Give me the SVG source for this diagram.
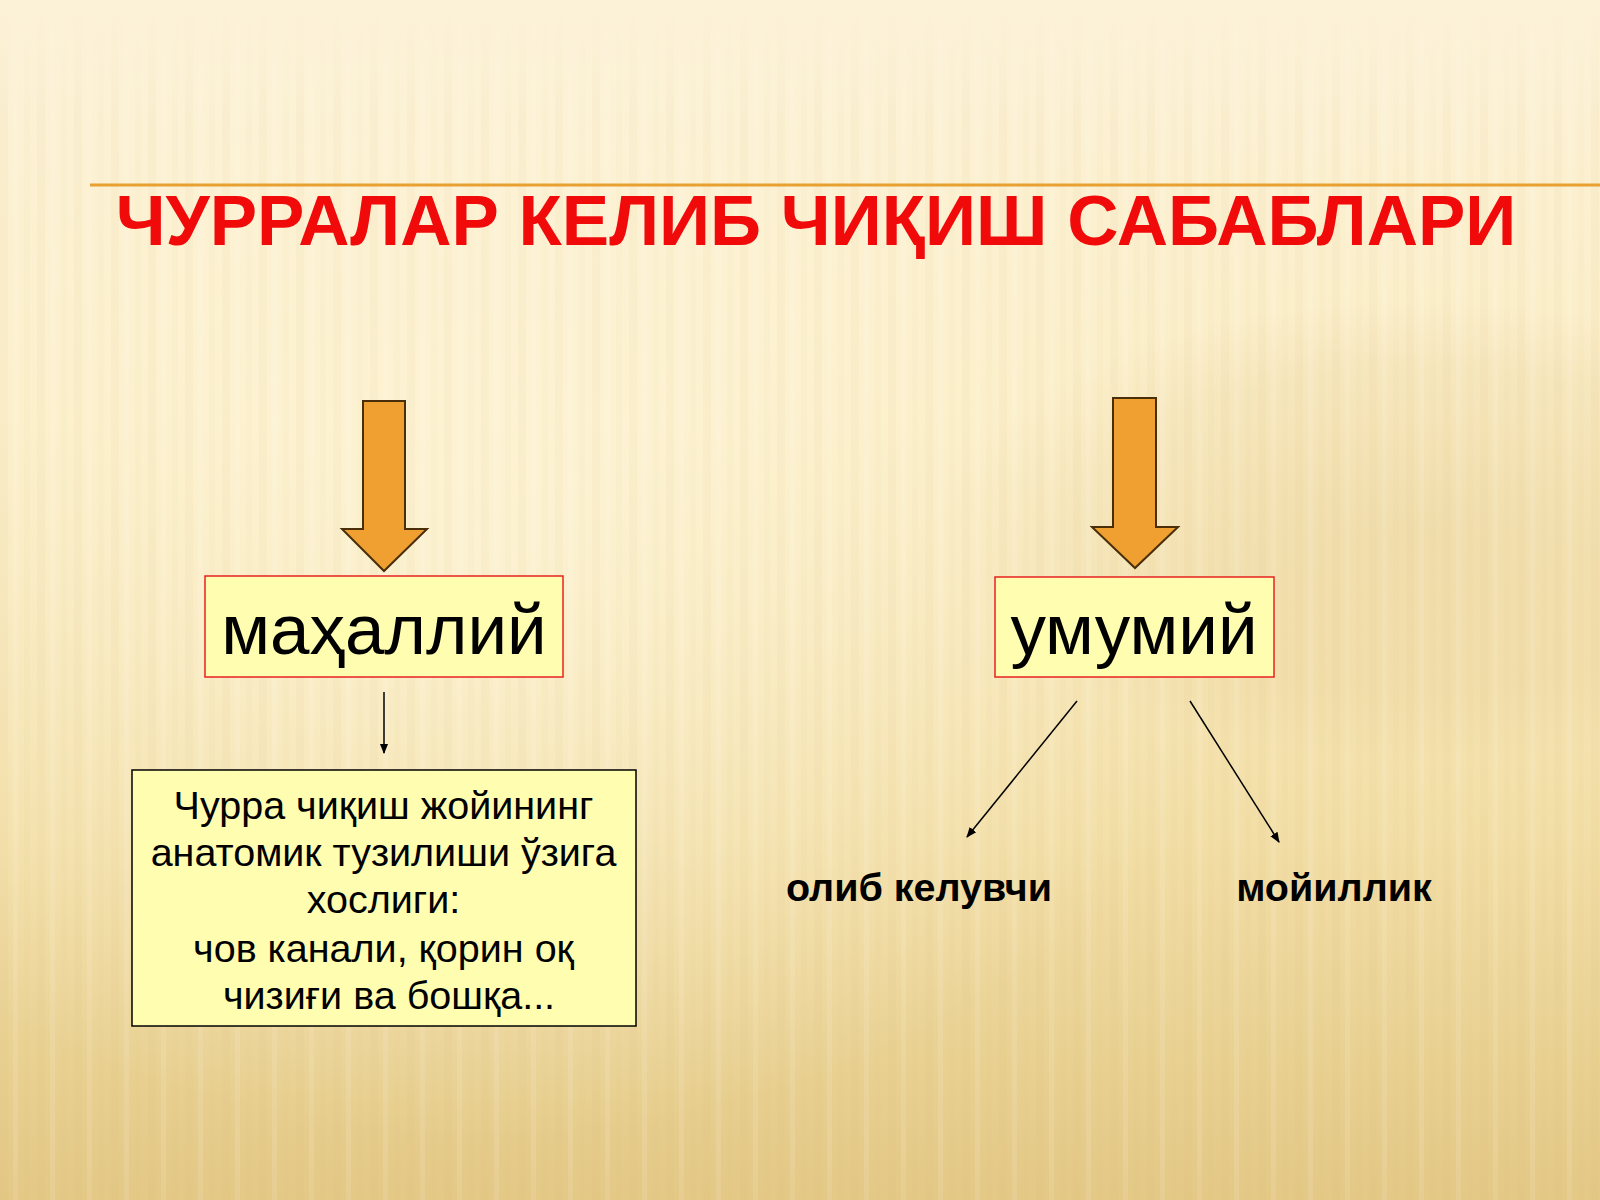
<svg xmlns="http://www.w3.org/2000/svg" width="1600" height="1200" viewBox="0 0 1600 1200">
  <defs>
    <linearGradient id="bg" x1="0" y1="0" x2="0" y2="1">
      <stop offset="0" stop-color="#FCF2D8"/>
      <stop offset="0.35" stop-color="#FBEDC6"/>
      <stop offset="0.7" stop-color="#F2DEA6"/>
      <stop offset="1" stop-color="#E3C886"/>
    </linearGradient>
    <radialGradient id="glow" cx="0.3" cy="0.45" r="0.5">
      <stop offset="0" stop-color="#FFF8E0" stop-opacity="0.6"/>
      <stop offset="1" stop-color="#FFF8E0" stop-opacity="0"/>
    </radialGradient>
    <radialGradient id="shade" cx="0.5" cy="0.5" r="0.5">
      <stop offset="0" stop-color="#D4B570" stop-opacity="0.22"/>
      <stop offset="0.7" stop-color="#D4B570" stop-opacity="0.12"/>
      <stop offset="1" stop-color="#D4B570" stop-opacity="0"/>
    </radialGradient>
    <linearGradient id="fadeTop" x1="0" y1="0" x2="0" y2="1">
      <stop offset="0" stop-color="#FCF2D8" stop-opacity="1"/>
      <stop offset="1" stop-color="#FCF2D8" stop-opacity="0"/>
    </linearGradient>
    <pattern id="stripes" x="0" y="0" width="37" height="1200" patternUnits="userSpaceOnUse">
      <rect x="0" y="0" width="8" height="1200" fill="#C8A860" opacity="0.06"/>
      <rect x="13" y="0" width="5" height="1200" fill="#FFFFFF" opacity="0.10"/>
      <rect x="24" y="0" width="6" height="1200" fill="#C8A860" opacity="0.04"/>
    </pattern>
    <marker id="ah" viewBox="0 0 10 10" refX="9" refY="5" markerWidth="7" markerHeight="7" orient="auto">
      <path d="M0,1 L10,5 L0,9 Z" fill="#000"/>
    </marker>
  </defs>
  <style>
    .title { font-family: "Liberation Sans", Arial, sans-serif; font-weight: bold; font-size: 71px; fill: #F00A0A; }
    .big { font-family: "Liberation Sans", Arial, sans-serif; font-size: 71px; fill: #000; }
    .body { font-family: "Liberation Sans", Arial, sans-serif; font-size: 39.5px; fill: #000; }
    .lbl { font-family: "Liberation Sans", Arial, sans-serif; font-weight: bold; font-size: 39.5px; fill: #000; }
    .arrowshape { fill: #EFA030; stroke: #4A2E0A; stroke-width: 2; }
    .conn { stroke: #000; stroke-width: 1.5; fill: none; }
  </style>

  <rect x="0" y="0" width="1600" height="1200" fill="url(#bg)"/>
  <ellipse cx="1420" cy="530" rx="480" ry="230" fill="url(#shade)"/>
  <rect x="0" y="0" width="1600" height="1200" fill="url(#glow)"/>
  <rect x="0" y="0" width="1600" height="1200" fill="url(#stripes)"/>
  <rect x="0" y="0" width="1600" height="120" fill="url(#fadeTop)"/>

  <line x1="90" y1="185" x2="1600" y2="185" stroke="#E8A030" stroke-width="3"/>

  <g id="title">
    <text class="title" x="816" y="245" text-anchor="middle">ЧУРРАЛАР КЕЛИБ ЧИҚИШ САБАБЛАРИ</text>
  </g>

  <g id="arrow-left">
    <polygon class="arrowshape" points="363,401 405,401 405,529 427,529 384,571 342,529 363,529"/>
  </g>
  <g id="arrow-right">
    <polygon class="arrowshape" points="1113,398 1156,398 1156,527 1178,527 1135,568 1092,527 1113,527"/>
  </g>

  <g id="node-mahalliy">
    <rect x="205" y="576" width="358" height="101" fill="#FFFDB0" stroke="#E82020" stroke-width="1.5"/>
    <text class="big" x="384" y="654" text-anchor="middle">маҳаллий</text>
  </g>

  <g id="node-umumiy">
    <rect x="995" y="577" width="279" height="100" fill="#FFFDB0" stroke="#E82020" stroke-width="1.5"/>
    <text class="big" x="1134" y="654" text-anchor="middle">умумий</text>
  </g>

  <g id="node-anatomy">
    <rect x="132" y="770" width="504" height="256" fill="#FFFDB0" stroke="#000" stroke-width="1.5"/>
    <text class="body" text-anchor="middle">
      <tspan x="389" y="819">Чурра чиқиш жойининг</tspan>
      <tspan x="389" y="866">анатомик тузилиши ўзига</tspan>
      <tspan x="389" y="913">хослиги:</tspan>
      <tspan x="389" y="962">чов канали, қорин оқ</tspan>
      <tspan x="389" y="1009">чизиғи ва бошқа...</tspan>
    </text>
  </g>

  <g id="node-olib">
    <text class="lbl" x="919" y="901" text-anchor="middle">олиб келувчи</text>
  </g>
  <g id="node-moyillik">
    <text class="lbl" x="1334" y="901" text-anchor="middle">мойиллик</text>
  </g>

  <g id="connectors">
    <line class="conn" x1="384" y1="692" x2="384" y2="753" marker-end="url(#ah)"/>
    <line class="conn" x1="1077" y1="701" x2="967" y2="837" marker-end="url(#ah)"/>
    <line class="conn" x1="1190" y1="701" x2="1279" y2="842" marker-end="url(#ah)"/>
  </g>
</svg>
